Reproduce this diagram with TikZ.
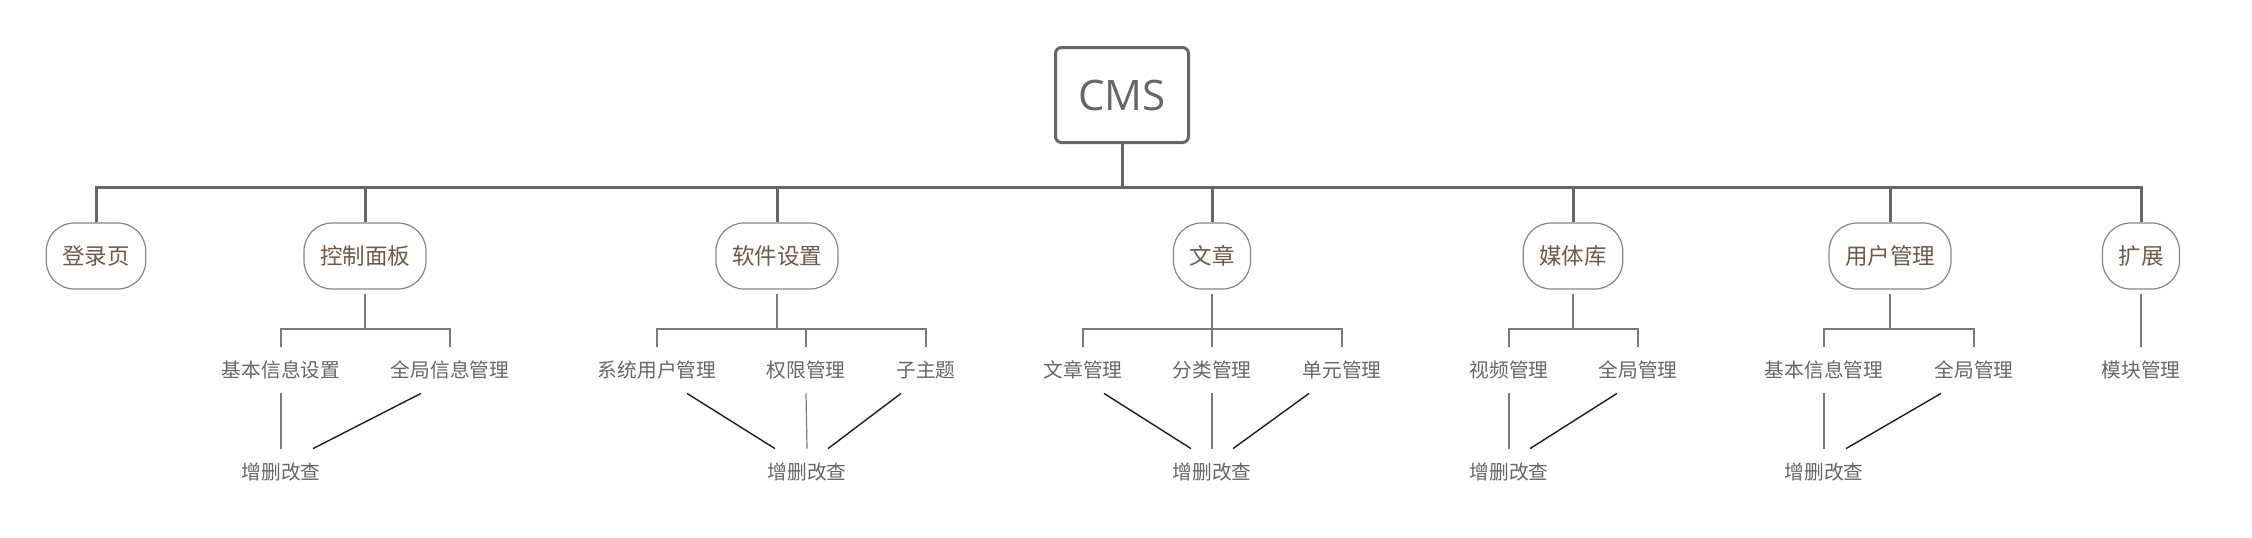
\documentclass[tikz,border=0pt]{standalone}
\usepackage{fontspec}
\setmainfont{Noto Sans CJK SC}
\newfontfamily\latinf{Open Sans}
\definecolor{trunkc}{HTML}{666666}
\definecolor{branchc}{HTML}{7A7A7A}
\definecolor{nodeb}{HTML}{858585}
\definecolor{browntxt}{HTML}{6E5A46}
\definecolor{greytxt}{HTML}{666666}
\definecolor{diagc}{HTML}{1E1E1E}
\tikzset{
  trunk/.style={draw=trunkc,line width=1.5pt},
  branch/.style={draw=branchc,line width=0.9pt},
  thinv/.style={draw=branchc,line width=0.6pt},
  diag/.style={draw=diagc,line width=0.7pt},
  rootbox/.style={draw=trunkc,line width=1.5pt,rounded corners=3pt,fill=white,
    minimum width=66.5pt,minimum height=47.5pt,inner sep=0pt,text=trunkc,
    font=\latinf\fontsize{21}{24}\selectfont},
  topic/.style={draw=nodeb,line width=0.6pt,rounded corners=14pt,fill=white,
    minimum height=33pt,inner xsep=8pt,inner ysep=0pt,text=browntxt,
    font=\fontsize{11.25}{13}\selectfont},
  sub/.style={minimum height=23pt,inner xsep=0pt,inner ysep=0pt,text=greytxt,
    font=\fontsize{9.85}{12}\selectfont},
}
\begin{document}
\begin{tikzpicture}[x=0.5pt,y=-0.5pt]
\useasboundingbox (0,0) rectangle (2252,537);
% root
\node[rootbox] (cms) at (1122,95) {CMS};
% level 1
\node[topic] (login) at (96,256) {登录页};
\node[topic] (ctrl)  at (365,256) {控制面板};
\node[topic] (soft)  at (777,256) {软件设置};
\node[topic] (art)   at (1212,256) {文章};
\node[topic] (media) at (1573,256) {媒体库};
\node[topic] (user)  at (1890,256) {用户管理};
\node[topic] (ext)   at (2141,256) {扩展};
% trunk
\coordinate (bus) at (1122,187);
\draw[trunk] (cms.south) -- (cms.south |- bus);
\draw[trunk] (login.north) |- (ext.north |- bus) -- (ext.north);
\foreach \n in {ctrl,soft,art,media,user}{
  \draw[trunk] (\n.north) -- (\n.north |- bus);
}
% level 2
\node[sub] (c1) at (281,370) {基本信息设置};
\node[sub] (c2) at (450,370) {全局信息管理};
\node[sub] (s1) at (657,370) {系统用户管理};
\node[sub] (s2) at (806,370) {权限管理};
\node[sub] (s3) at (926,370) {子主题};
\node[sub] (a1) at (1083,370) {文章管理};
\node[sub] (a2) at (1212,370) {分类管理};
\node[sub] (a3) at (1342,370) {单元管理};
\node[sub] (m1) at (1509,370) {视频管理};
\node[sub] (m2) at (1638,370) {全局管理};
\node[sub] (u1) at (1824,370) {基本信息管理};
\node[sub] (u2) at (1974,370) {全局管理};
\node[sub] (e1) at (2141,370) {模块管理};
% level 3
\node[sub] (cz) at (281,472) {增删改查};
\node[sub] (sz) at (807,472) {增删改查};
\node[sub] (az) at (1212,472) {增删改查};
\node[sub] (mz) at (1509,472) {增删改查};
\node[sub] (uz) at (1824,472) {增删改查};
% brackets
\coordinate (br) at (0,329);
\draw[branch] ([yshift=-2pt]ctrl.south) -- (ctrl.south |- br);
\draw[branch] (c1.north) |- (c2.north |- br) -- (c2.north);
\draw[branch] ([yshift=-2pt]soft.south) -- (soft.south |- br);
\draw[branch] (s1.north) |- (s3.north |- br) -- (s3.north);
\draw[branch] (s2.north) -- (s2.north |- br);
\draw[branch] ([yshift=-2pt]art.south) -- (art.south |- br);
\draw[branch] (a1.north) |- (a3.north |- br) -- (a3.north);
\draw[branch] (a2.north) -- (a2.north |- br);
\draw[branch] ([yshift=-2pt]media.south) -- (media.south |- br);
\draw[branch] (m1.north) |- (m2.north |- br) -- (m2.north);
\draw[branch] ([yshift=-2pt]user.south) -- (user.south |- br);
\draw[branch] (u1.north) |- (u2.north |- br) -- (u2.north);
\draw[branch] ([yshift=-2pt]ext.south) -- (e1.north);
% links to 增删改查
\draw[thinv] (c1.south) -- (cz.north);
\draw[diag] ([xshift=-14.5pt]c2.south) -- ([xshift=16pt]cz.north);
\draw[diag] ([xshift=15pt]s1.south) -- ([xshift=-16pt]sz.north);
\draw[thinv] (s2.south) -- (sz.north);
\draw[diag] ([xshift=-12.5pt]s3.south) -- ([xshift=10.5pt]sz.north);
\draw[diag] ([xshift=10.5pt]a1.south) -- ([xshift=-10.5pt]az.north);
\draw[thinv] (a2.south) -- (az.north);
\draw[diag] ([xshift=-16.5pt]a3.south) -- ([xshift=10.5pt]az.north);
\draw[thinv] (m1.south) -- (mz.north);
\draw[diag] ([xshift=-10.5pt]m2.south) -- ([xshift=10.5pt]mz.north);
\draw[thinv] (u1.south) -- (uz.north);
\draw[diag] ([xshift=-16.5pt]u2.south) -- ([xshift=11pt]uz.north);
\end{tikzpicture}
\end{document}
